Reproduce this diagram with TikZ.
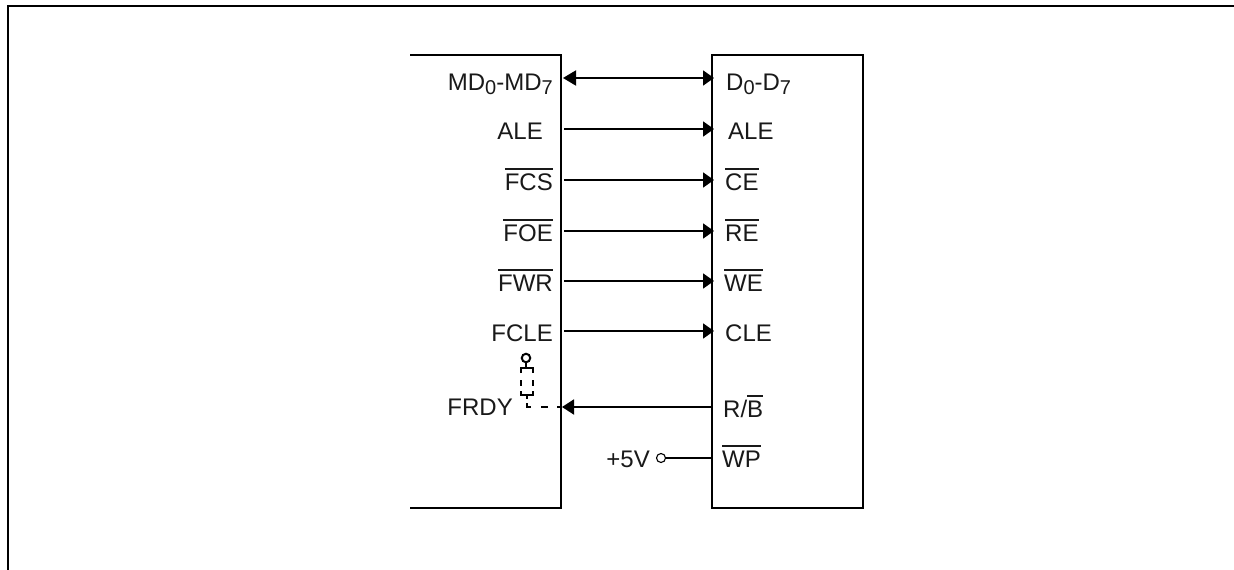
\documentclass[tikz,border=0pt]{standalone}
\usepackage{fontspec}
\setmainfont{Liberation Sans}
\usetikzlibrary{arrows.meta}
\newcommand{\ovl}[1]{\leavevmode\setbox0\hbox{#1}\rlap{\rule[20.5pt]{\wd0}{1.3pt}}\box0}
\newcommand{\subs}[1]{\raisebox{-4.5pt}{\fontsize{20}{21}\selectfont #1}}
\tikzset{
  x=1pt,y=-1pt,
  wire/.style={line width=1.9pt,line join=miter},
  tipped/.style={wire,-{Triangle[length=11pt,width=15pt]},shorten >=-2pt},
  both/.style={wire,{Triangle[length=13pt,width=15pt]}-{Triangle[length=11pt,width=15pt]},shorten >=-2pt},
  dsh/.style={line width=2.8pt,line join=miter},
  lab/.style={inner sep=0pt,font=\fontsize{24}{26}\selectfont,text=black!90},
  labr/.style={lab,anchor=base east},
  labl/.style={lab,anchor=base west},
  pin/.style={circle,draw,fill=white,inner sep=0pt,minimum size=#1}
}
\begin{document}
\begin{tikzpicture}
\useasboundingbox (0,0) rectangle (1234,570);
% frame
\coordinate (fa) at (8,570); \coordinate (fb) at (8,6); \coordinate (fc) at (1234,6);
\draw[wire] (fa) -- (fb) -- (fc);
% left block
\coordinate (la) at (410,55); \coordinate (lb) at (561,55);
\coordinate (lc) at (561,508); \coordinate (ld) at (410,508);
\draw[wire] (la) -- (lb) -- (lc) -- (ld);
% right block
\node[draw,line width=1.9pt,minimum width=151pt,minimum height=453pt,inner sep=0pt,outer sep=0pt,anchor=north west] (rb) at (712,55) {};
% ports
\foreach \n/\y in {a/78,b/129,c/180,d/231,e/281,f/331,g/407,h/458}{
  \coordinate (L\n) at (564,\y);
  \coordinate (R\n) at (712,\y);
}
\coordinate (La) at (563,78);
\coordinate (Lg) at (562,407);
% labels left
\node[labr] (t1) at (553,90) {MD\subs{0}-MD\subs{7}};
\node[labr] (t2) at (543,139) {ALE};
\node[labr] (t3) at (553,190) {\ovl{FCS}};
\node[labr] (t4) at (553,241) {\ovl{FOE}};
\node[labr] (t5) at (553,291) {\ovl{FWR}};
\node[labr] (t6) at (553,341) {FCLE};
\node[labr] (t7) at (513,415) {FRDY};
\node[labr] (t8) at (650,467) {+5V};
% labels right
\node[labl] (u1) at (726,90) {D\subs{0}-D\subs{7}};
\node[labl] (u2) at (728,139) {ALE};
\node[labl] (u3) at (725,190) {\ovl{CE}};
\node[labl] (u4) at (725,241) {\ovl{RE}};
\node[labl] (u5) at (724,291) {\ovl{WE}};
\node[labl] (u6) at (725,341) {CLE};
\node[labl] (u7) at (723,417) {R/\ovl{B}};
\node[labl] (u8) at (722,467) {\ovl{WP}};
% connectors
\draw[both] (La) -- (Ra);
\draw[tipped] (Lb) -- (Rb);
\draw[tipped] (Lc) -- (Rc);
\draw[tipped] (Ld) -- (Rd);
\draw[tipped] (Le) -- (Re);
\draw[tipped] (Lf) -- (Rf);
\draw[wire,-{Triangle[length=12pt,width=15pt]}] (Rg) -- (Lg);
% +5V pin
\node[pin=9pt,line width=1.1pt] (vp) at (661,458) {};
\draw[wire] (vp) -- (Rh);
% FRDY strap
\node[pin=8.5pt,line width=2pt] (sp) at (526,358) {};
\coordinate (s1) at (526,368);
\draw[wire] (sp) -- (s1);
\draw[dsh] (521,373) -- (521,368) -- (533,368) -- (533,373);
\draw[dsh] (521,380) -- (521,386);
\draw[dsh] (533,380) -- (533,386);
\draw[dsh] (521,391) -- (521,395) -- (533,395) -- (533,391);
\draw[dsh] (527,395) -- (527,399);
\draw[dsh] (527,403) -- (527,407) -- (531,407);
\draw[dsh] (541,407) -- (548,407);
\draw[dsh] (557,407) -- (Lg);
\end{tikzpicture}
\end{document}
